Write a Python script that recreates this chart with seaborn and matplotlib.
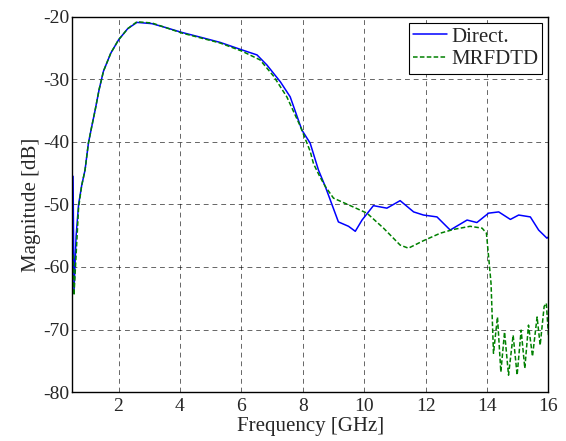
import numpy as np
import pandas as pd
import seaborn as sns
from matplotlib import pyplot as plt

direct_f = [0.52, 0.55, 0.62, 0.70, 0.80, 0.91, 1.02, 1.13, 1.24, 1.37, 1.51, 1.75, 2.0, 2.3, 2.60,
            3.09, 3.52, 4.06, 4.77, 5.31, 6.02, 6.51, 6.83, 7.27, 7.59, 7.97, 8.24, 8.51, 8.73,
            9.16, 9.49, 9.71, 9.93, 10.30, 10.74, 11.17, 11.61, 11.93, 12.37, 12.80, 13.35,
            13.67, 14.05, 14.38, 14.76, 15.03, 15.41, 15.68, 15.95, 16.0]
direct_db = [-45.5, -64.0, -55.0, -50.0, -47.0, -44.5, -40.2, -37.5, -34.9, -31.6, -28.7, -25.8,
             -23.7, -21.9, -20.9, -21.1, -21.7, -22.5, -23.4, -24.1, -25.3, -26.1, -27.7, -30.4,
             -32.8, -38.1, -40.2, -44.5, -47.1, -52.8, -53.5, -54.3, -52.5, -50.2, -50.6, -49.4,
             -51.2, -51.7, -52.0, -54.1, -52.5, -52.9, -51.4, -51.2, -52.4, -51.7, -52.0, -54.1,
             -55.4, -55.2]

mrfdtd_f = [0.52, 0.55, 0.70, 0.80, 0.91, 1.02, 1.13, 1.24, 1.37, 1.51, 1.75, 2.0, 2.3, 2.60,
            3.09, 3.52, 4.06, 4.77, 5.31, 6.02, 6.61, 7.05, 7.48, 7.92, 8.24, 8.35, 8.55, 8.73,
            9.0, 9.55, 10.09, 10.63, 11.17, 11.44, 11.93, 12.48, 12.91, 13.45, 13.84, 13.98,
            14.05, 14.13, 14.21, 14.34, 14.45, 14.57, 14.70, 14.85, 14.98, 15.11, 15.23, 15.35,
            15.48, 15.63, 15.73, 15.86, 15.93, 16.0]
mrfdtd_db = [-58.0, -64.5, -50.5, -47.0, -44.5, -40.2, -37.5, -34.9, -31.6, -28.7, -25.8, -23.7,
             -21.9, -20.8, -21.0, -21.7, -22.6, -23.5, -24.2, -25.5, -26.9, -29.5, -32.8, -37.5,
             -41.5, -43.5, -45.5, -47.1, -49.0, -50.2, -51.4, -53.8, -56.5, -57.0, -55.8, -54.6,
             -54.0, -53.5, -53.8, -54.6, -58.3, -62.6, -73.8, -68.0, -76.8, -70.4, -77.3, -70.9,
             -77.3, -70.1, -76.2, -69.3, -74.3, -68.0, -72.5, -66.3, -65.8, -70.9]

df = pd.concat([
    pd.DataFrame({'f': direct_f, 'mag': direct_db, 'method': 'Direct.'}),
    pd.DataFrame({'f': mrfdtd_f, 'mag': mrfdtd_db, 'method': 'MRFDTD'}),
])

sns.set_style('white')
plt.rcParams['font.family'] = ['Liberation Serif', 'DejaVu Serif']
plt.rcParams['axes.unicode_minus'] = False

fig = plt.figure(figsize=(5.66, 4.41), dpi=100)
ax = fig.add_axes([0.128, 0.111, 0.841, 0.851])
sns.lineplot(data=df, x='f', y='mag', hue='method', style='method',
             palette={'Direct.': '#0000ff', 'MRFDTD': '#008000'},
             dashes={'Direct.': '', 'MRFDTD': (3, 1.5)},
             sort=False, estimator=None, linewidth=1.1, ax=ax)

ax.set_xlim(0.5, 16)
ax.set_ylim(-80, -20)
ax.set_xticks(range(2, 17, 2))
ax.set_yticks(range(-80, -19, 10))
ax.grid(True, color='k', linestyle=(0, (5, 4)), linewidth=0.7, alpha=0.6)
ax.tick_params(labelsize=14, length=0)
ax.tick_params(axis='x', pad=4)
ax.tick_params(axis='y', pad=2)
for s in ax.spines.values():
    s.set_color('k')
    s.set_linewidth(1.0)
ax.set_xlabel('Frequency [GHz]', fontsize=15, labelpad=2)
ax.set_ylabel('Magnitude [dB]', fontsize=15, labelpad=2)

leg = ax.legend(loc='upper right', fontsize=15, handlelength=1.6, handletextpad=0.2,
                borderpad=0.2, labelspacing=0.15, fancybox=False, framealpha=1,
                borderaxespad=0.3)
leg.get_frame().set_edgecolor('k')
leg.get_frame().set_linewidth(0.8)

fig.savefig('out.png', dpi=100)
